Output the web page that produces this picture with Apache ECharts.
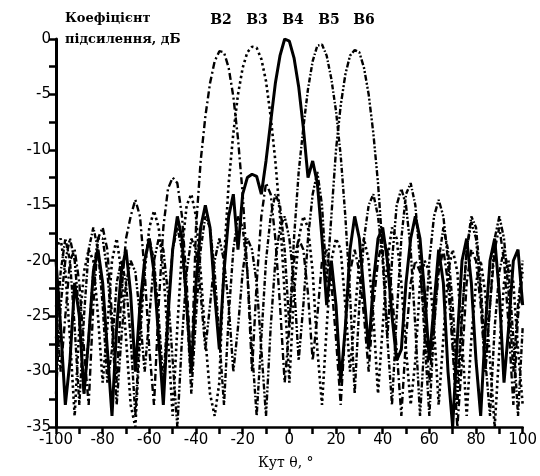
<!DOCTYPE html>
<html>
<head>
<meta charset="utf-8">
<script src="https://cdn.jsdelivr.net/npm/echarts@6/dist/echarts.min.js"></script>
<style>
  html, body { margin: 0; padding: 0; background: #fff; }
  #chart { width: 540px; height: 476px; }
</style>
</head>
<body>
<div id="chart"></div>
<script>
// кути, градуси (крок 2)
const angles = [
  -100, -98, -96, -94, -92, -90, -88, -86, -84, -82,
  -80, -78, -76, -74, -72, -70, -68, -66, -64, -62,
  -60, -58, -56, -54, -52, -50, -48, -46, -44, -42,
  -40, -38, -36, -34, -32, -30, -28, -26, -24, -22,
  -20, -18, -16, -14, -12, -10, -8, -6, -4, -2,
  0, 2, 4, 6, 8, 10, 12, 14, 16, 18,
  20, 22, 24, 26, 28, 30, 32, 34, 36, 38,
  40, 42, 44, 46, 48, 50, 52, 54, 56, 58,
  60, 62, 64, 66, 68, 70, 72, 74, 76, 78,
  80, 82, 84, 86, 88, 90, 92, 94, 96, 98,
  100
];

const b2 = [
  -24, -30, -25, -20, -19, -22, -28, -33, -24, -18,
  -17, -19, -25, -31, -23, -18, -16, -14.5, -16, -21,
  -28, -33, -24, -17, -13.5, -12.5, -13, -16, -22, -30,
  -17, -11, -7, -4, -2, -1.1, -1.2, -2.6, -5.2, -9,
  -14, -21, -30, -22, -16, -13, -14, -18, -24, -31,
  -26, -20, -18, -19, -23, -29, -25, -20, -19, -22,
  -27, -33, -26, -21, -19, -21, -25, -30, -24, -20,
  -18, -19, -23, -28, -34, -27, -22, -20, -21, -25,
  -31, -26, -21, -19, -22, -28, -35, -29, -22, -19,
  -20, -24, -30, -24, -19, -17, -20, -26, -33, -25,
  -21
];

const b3 = [
  -19, -18, -21, -27, -34, -26, -21, -19, -20, -25,
  -31, -26, -20, -18, -21, -27, -33, -35, -27, -21,
  -17, -15.5, -17, -21, -27, -34, -26, -19, -15, -14,
  -16, -21, -27, -32, -34, -31, -20, -13, -8.5, -5,
  -2.6, -1.2, -0.7, -0.8, -1.8, -3.8, -7, -11, -16, -23,
  -31, -23, -18, -16, -17, -21, -28, -33, -26, -20,
  -18, -19, -24, -30, -25, -20, -18, -20, -25, -32,
  -26, -20, -17, -18, -22, -28, -33, -29, -22, -20,
  -21, -26, -33, -27, -21, -19, -21, -27, -34, -27,
  -22, -20, -23, -29, -35, -28, -22, -20, -22, -28,
  -33
];

const b4 = [
  -20, -26, -33, -29, -22, -25, -32, -27, -21, -19,
  -22, -28, -34, -26, -21, -19, -23, -30, -24, -20,
  -18, -21, -27, -33, -25, -19, -16, -18, -24, -30,
  -22, -17, -15, -17, -23, -28, -21, -16, -14, -19,
  -14, -12.5, -12.2, -12.4, -14, -11, -7.5, -4, -1.5, 0,
  -0.2, -1.7, -4.3, -8, -12.5, -11, -13, -18, -24, -20,
  -24, -31, -26, -19, -16, -18, -23, -28, -22, -18,
  -17, -20, -25, -29, -28, -22, -18, -16, -18, -23,
  -29, -24, -19, -22, -30, -35, -27, -20, -18, -22,
  -29, -34, -26, -20, -18, -23, -31, -26, -20, -19,
  -24
];

const b5 = [
  -27, -21, -18, -20, -26, -33, -25, -19, -17, -19,
  -24, -31, -28, -22, -20, -22, -27, -34, -26, -20,
  -18, -20, -25, -31, -24, -19, -17, -19, -24, -32,
  -25, -19, -16, -17, -21, -27, -33, -25, -19, -16,
  -17, -21, -28, -34, -27, -20, -16, -14, -15, -19,
  -26, -18, -12, -8, -4.5, -2, -0.6, -0.5, -1.5, -3.6,
  -6.5, -10.5, -16, -23, -32, -24, -18, -15, -14, -16,
  -20, -27, -33, -25, -18, -14, -13, -15, -20, -27,
  -34, -26, -20, -17, -19, -24, -31, -25, -19, -16,
  -17, -22, -29, -34, -26, -21, -19, -21, -27, -34,
  -26
];

const b6 = [
  -32, -24, -20, -18, -20, -25, -32, -27, -21, -18,
  -18, -21, -26, -33, -27, -22, -20, -21, -25, -30,
  -25, -20, -18, -19, -23, -29, -35, -27, -21, -18,
  -19, -23, -28, -24, -20, -18, -20, -24, -30, -26,
  -21, -18, -19, -22, -28, -34, -26, -20, -17, -16,
  -18, -22, -29, -24, -18, -14, -12, -15, -22, -16,
  -10, -6, -3.2, -1.5, -1, -1.2, -2.6, -5, -8.5, -13,
  -19, -27, -20, -15, -13.5, -15, -19, -26, -34, -27,
  -20, -16, -14.5, -16, -20, -27, -33, -25, -19, -16.5,
  -18, -23, -30, -24, -18, -16, -18, -23, -30, -24,
  -20
];

const beamNames = ['B2', 'B3', 'B4', 'B5', 'B6'];
const beamLabelX = [221, 257, 293, 329, 364];

const chart = echarts.init(document.getElementById('chart'));

function pairs(vals) {
  return angles.map((a, i) => [a, vals[i]]);
}

const serif = '"DejaVu Serif", "Liberation Serif", serif';
const sans = '"DejaVu Sans", Arial, sans-serif';

chart.setOption({
  backgroundColor: '#fff',
  animation: false,
  grid: { left: 56, right: 15, top: 39, bottom: 49 },
  xAxis: {
    type: 'value',
    min: -100,
    max: 100,
    interval: 10,
    axisLine: { onZero: false, lineStyle: { color: '#000', width: 2.5 } },
    axisTick: { length: 7, lineStyle: { color: '#000', width: 2.5 } },
    axisLabel: {
      color: '#000',
      fontFamily: sans,
      fontSize: 15,
      margin: 6,
      formatter: v => (v % 20 === 0 ? String(v) : '')
    },
    splitLine: { show: false }
  },
  yAxis: {
    type: 'value',
    min: -35,
    max: 0,
    interval: 2.5,
    axisLine: { show: true, onZero: false, lineStyle: { color: '#000', width: 3 } },
    axisTick: { show: true, length: 7, lineStyle: { color: '#000', width: 2.5 } },
    axisLabel: {
      color: '#000',
      fontFamily: sans,
      fontSize: 15,
      margin: 5,
      formatter: v => (v % 5 === 0 ? String(v) : '')
    },
    splitLine: { show: false }
  },
  graphic: [
    {
      type: 'text', left: 65, top: 12,
      style: { text: 'Коефіцієнт', font: 'bold 13px ' + serif, fill: '#000' }
    },
    {
      type: 'text', left: 65, top: 33,
      style: { text: 'підсилення, дБ', font: 'bold 13px ' + serif, fill: '#000' }
    },
    {
      type: 'text', left: 258, top: 456,
      style: { text: 'Кут θ, °', font: '14px ' + serif, fill: '#000' }
    }
  ].concat(beamNames.map((n, i) => ({
    type: 'text', x: beamLabelX[i], y: 20,
    style: {
      text: n, font: 'bold 14px ' + serif, fill: '#000',
      align: 'center', verticalAlign: 'middle'
    }
  }))),
  series: [
    {
      name: 'B2', type: 'line', data: pairs(b2), showSymbol: false,
      lineStyle: { color: '#000', width: 2.4, type: [7, 3, 2, 3] }
    },
    {
      name: 'B3', type: 'line', data: pairs(b3), showSymbol: false,
      lineStyle: { color: '#000', width: 2.6, type: [2.5, 3] }
    },
    {
      name: 'B4', type: 'line', data: pairs(b4), showSymbol: false,
      lineStyle: { color: '#000', width: 3 }
    },
    {
      name: 'B5', type: 'line', data: pairs(b5), showSymbol: false,
      lineStyle: { color: '#000', width: 2.4, type: [5, 2, 1.5, 2] }
    },
    {
      name: 'B6', type: 'line', data: pairs(b6), showSymbol: false,
      lineStyle: { color: '#000', width: 2.4, type: [6, 2, 2, 2, 2, 2] }
    }
  ]
});
</script>
</body>
</html>
